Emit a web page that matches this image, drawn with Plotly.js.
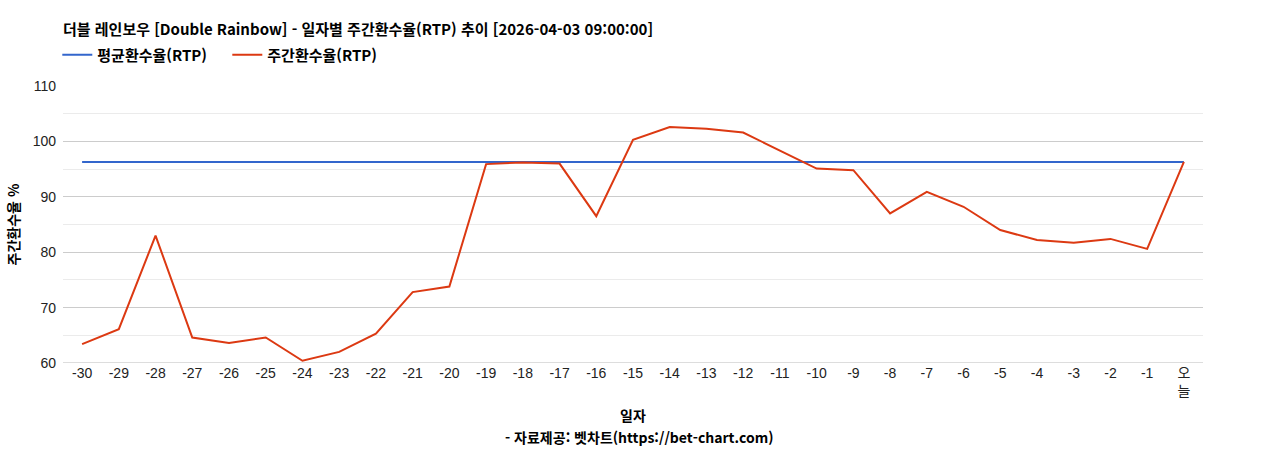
<!DOCTYPE html>
<html lang="ko">

<head>
    <meta charset="utf-8">
    <title>Double Rainbow RTP</title>
    <script src="https://cdn.plot.ly/plotly-3.0.1.min.js"></script>
    <style>
        html,
        body {
            margin: 0;
            padding: 0;
            background: #fff;
        }

        #chart {
            width: 1268px;
            height: 450px;
        }
    </style>
</head>

<body>
    <div id="chart"></div>

    <script>
        // days before today, last one is today
        const days = ['-30', '-29', '-28', '-27', '-26', '-25', '-24', '-23', '-22', '-21',
            '-20', '-19', '-18', '-17', '-16', '-15', '-14', '-13', '-12', '-11',
            '-10', '-9', '-8', '-7', '-6', '-5', '-4', '-3', '-2', '-1', '오늘'];
        const dayTicks = days.map(d => d === '오늘' ? '오<br>늘' : d);

        const weeklyRtp = [63.4, 66.1, 83.0, 64.6, 63.6, 64.6, 60.4, 62.0, 65.3, 72.8,
            73.8, 95.9, 96.2, 96.0, 86.5, 100.3, 102.6, 102.3, 101.6, 98.4,
            95.1, 94.8, 87.0, 90.9, 88.2, 84.0, 82.2, 81.7, 82.4, 80.6, 96.3];
        const avgRtp = 96.3;
        const avgSeries = days.map(() => avgRtp);

        const baseFont = 'Liberation Sans, Arial, Noto Sans CJK KR, sans-serif';
        const boldFont = 'Noto Sans CJK KR, Liberation Sans, sans-serif';

        const data = [
            {
                x: days,
                y: avgSeries,
                type: 'scatter',
                mode: 'lines',
                name: '평균환수율(RTP)',
                line: { color: '#3366cc', width: 2 },
                hoverinfo: 'skip'
            },
            {
                x: days,
                y: weeklyRtp,
                type: 'scatter',
                mode: 'lines',
                name: '주간환수율(RTP)',
                line: { color: '#dc3912', width: 2 }
            }
        ];

        const layout = {
            width: 1268,
            height: 450,
            margin: { l: 63, r: 65, t: 86, b: 87 },
            paper_bgcolor: '#fff',
            plot_bgcolor: '#fff',
            font: { family: baseFont, size: 14, color: '#222' },
            title: {
                text: '<b>더블 레인보우 [Double Rainbow] - 일자별 주간환수율(RTP) 추이 [2026-04-03 09:00:00]</b>',
                font: { family: boldFont, size: 15, color: '#000' },
                xref: 'paper',
                x: 0,
                xanchor: 'left',
                yref: 'container',
                y: 1 - 30 / 450,
                yanchor: 'middle'
            },
            showlegend: true,
            legend: {
                orientation: 'h',
                xref: 'paper',
                x: -0.005,
                xanchor: 'left',
                yref: 'container',
                y: 1 - 55 / 450,
                yanchor: 'middle',
                font: { family: boldFont, size: 15, color: '#000', weight: 'bold' },
                itemwidth: 30,
                entrywidth: 125,
                entrywidthmode: 'pixels',
                traceorder: 'normal'
            },
            xaxis: {
                type: 'category',
                tickvals: days,
                ticktext: dayTicks,
                range: [-0.52, days.length - 0.48],
                showgrid: false,
                zeroline: false,
                showline: false,
                ticks: '',
                tickfont: { size: 14, color: '#222' },
                title: {
                    text: '<b>일자</b>',
                    font: { family: boldFont, size: 14, color: '#000' },
                    standoff: 12
                }
            },
            yaxis: {
                range: [60, 110],
                dtick: 10,
                tick0: 60,
                gridcolor: '#cccccc',
                gridwidth: 1,
                zeroline: false,
                showline: false,
                ticks: '',
                ticklabelstandoff: 6,
                tickfont: { size: 14, color: '#222' },
                minor: {
                    dtick: 5,
                    tick0: 60,
                    showgrid: true,
                    gridcolor: '#ebebeb',
                    gridwidth: 1
                },
                title: {
                    text: '<b>주간환수율 %</b>',
                    font: { family: boldFont, size: 14, color: '#000' },
                    standoff: 9
                }
            },
            shapes: [
                {
                    type: 'line',
                    xref: 'paper',
                    yref: 'y',
                    x0: 0,
                    x1: 1,
                    y0: 60,
                    y1: 60,
                    line: { color: '#bbbbbb', width: 1 }
                }
            ],
            annotations: [
                {
                    text: '<b>- 자료제공: 벳차트(https://bet-chart.com)</b>',
                    xref: 'paper',
                    yref: 'paper',
                    x: 0.506,
                    y: -(437 - 363) / 277,
                    xanchor: 'center',
                    yanchor: 'middle',
                    showarrow: false,
                    font: { family: boldFont, size: 14, color: '#000' }
                }
            ]
        };

        Plotly.newPlot('chart', data, layout, { displayModeBar: false, staticPlot: true });
    </script>
</body>

</html>
